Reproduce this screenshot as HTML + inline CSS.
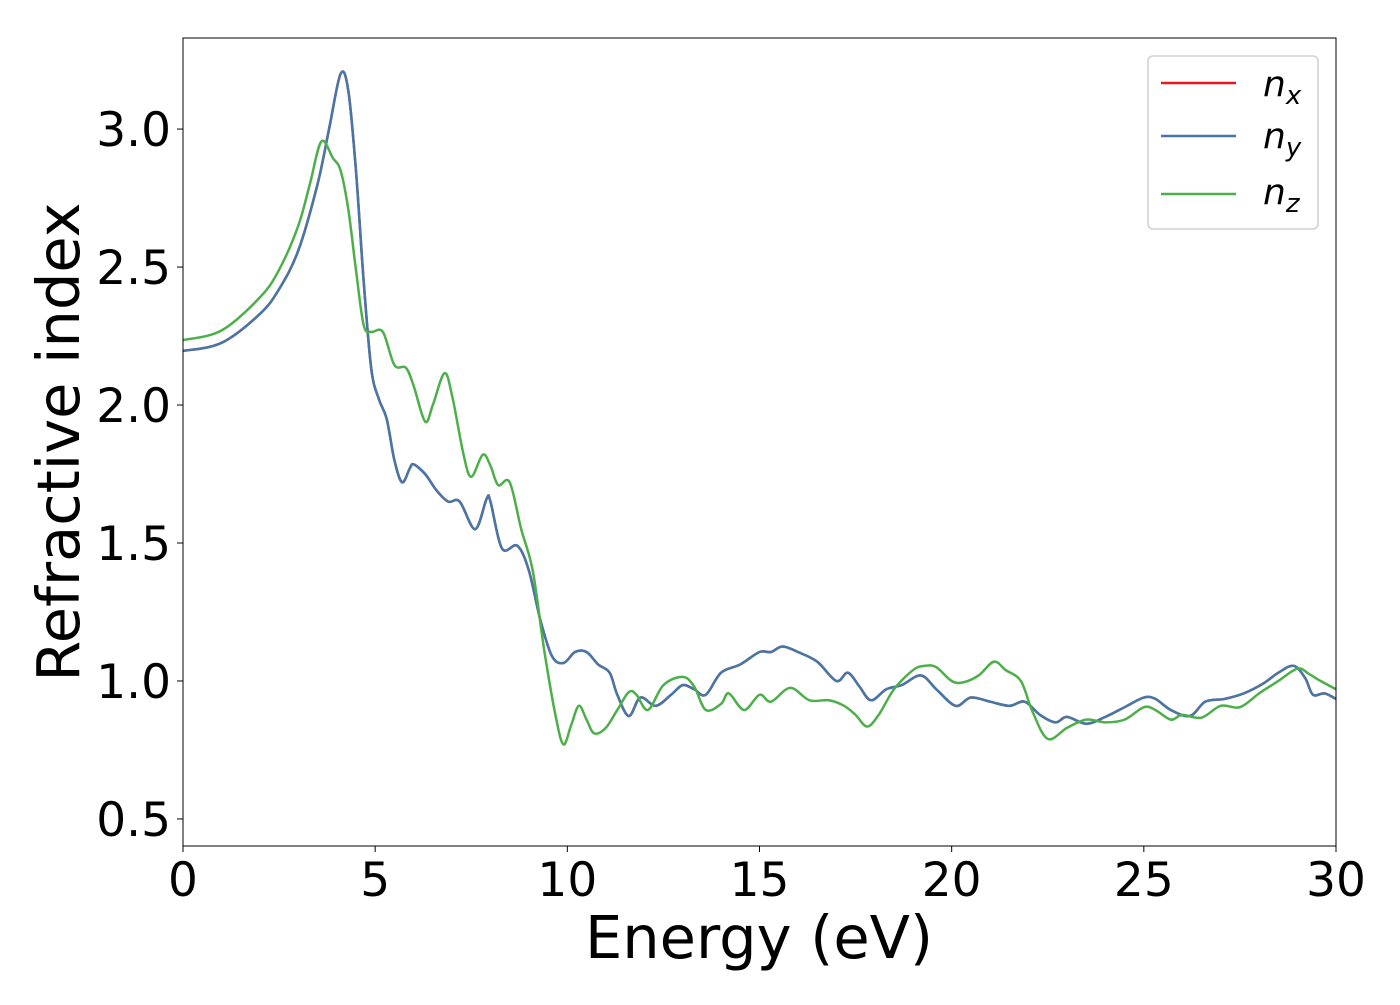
<!DOCTYPE html>
<html><head><meta charset="utf-8"><style>
body{margin:0;background:#fff;}
svg text{font-family:"DejaVu Sans","Liberation Sans",sans-serif;fill:#000;}
</style></head><body>
<svg id="chart" width="1400" height="1000" xmlns="http://www.w3.org/2000/svg">
<g id="plot"></g>
</svg>
<script>
const energyY=[0,1,2,2.5,3,3.5,3.8,4.1,4.3,4.5,4.7,4.9,5.1,5.3,5.5,5.7,5.9,6.0,6.3,6.6,6.9,7.2,7.6,7.9,8.0,8.3,8.7,9.0,9.3,9.6,9.9,10.2,10.5,10.8,11.1,11.3,11.6,11.9,12.3,12.7,13.0,13.3,13.6,14.0,14.5,15.0,15.3,15.6,16.0,16.5,17.0,17.3,17.6,17.9,18.3,18.7,19.2,19.6,20.1,20.5,21.0,21.5,21.9,22.3,22.7,23.0,23.5,24.0,24.5,25.0,25.3,25.7,26.2,26.6,27.1,27.6,28.1,28.5,28.9,29.2,29.4,29.7,30];
const nyValues=[2.196,2.225,2.33,2.42,2.56,2.80,3.0,3.20,3.14,2.85,2.45,2.13,2.02,1.95,1.80,1.72,1.77,1.785,1.75,1.69,1.65,1.65,1.55,1.66,1.65,1.48,1.49,1.40,1.22,1.09,1.065,1.105,1.105,1.06,1.03,0.95,0.873,0.94,0.91,0.95,0.985,0.97,0.95,1.03,1.06,1.105,1.105,1.125,1.105,1.07,1.00,1.03,0.98,0.93,0.97,0.985,1.02,0.97,0.91,0.94,0.925,0.91,0.925,0.877,0.85,0.87,0.845,0.87,0.905,0.94,0.935,0.895,0.873,0.925,0.935,0.955,0.99,1.03,1.055,1.01,0.95,0.955,0.935];
const nxValues=nyValues.slice();
const energyZ=[0,1,2,2.5,3,3.3,3.6,3.9,4.1,4.3,4.5,4.7,4.9,5.2,5.5,5.8,6.0,6.3,6.5,6.8,7.0,7.3,7.5,7.8,8.0,8.2,8.5,8.8,9.1,9.4,9.7,9.9,10.1,10.3,10.5,10.7,11.0,11.3,11.6,11.8,12.1,12.5,13.0,13.3,13.6,14.0,14.2,14.6,15.0,15.3,15.8,16.3,16.8,17.2,17.5,17.8,18.1,18.5,19.0,19.3,19.6,20.0,20.3,20.7,21.1,21.4,21.8,22.1,22.5,23.0,23.5,24.0,24.5,25.0,25.3,25.7,26.0,26.5,27.0,27.5,28.0,28.5,29.0,29.3,29.6,30];
const nzValues=[2.235,2.27,2.39,2.49,2.65,2.80,2.955,2.895,2.85,2.71,2.49,2.29,2.265,2.265,2.145,2.135,2.07,1.94,2.00,2.115,2.035,1.82,1.74,1.82,1.78,1.71,1.72,1.55,1.40,1.11,0.87,0.77,0.84,0.91,0.86,0.81,0.83,0.895,0.96,0.95,0.895,0.985,1.015,0.98,0.895,0.917,0.955,0.895,0.95,0.925,0.975,0.93,0.93,0.91,0.877,0.835,0.877,0.97,1.04,1.055,1.05,1.00,0.995,1.02,1.07,1.04,1.00,0.89,0.79,0.83,0.86,0.85,0.86,0.905,0.895,0.86,0.877,0.867,0.91,0.905,0.955,1.00,1.045,1.025,1.00,0.97];
const xTicks=[0,5,10,15,20,25,30];
const yTicks=[0.5,1.0,1.5,2.0,2.5,3.0];
const yTickLabels=["0.5","1.0","1.5","2.0","2.5","3.0"];

const L=183,R=1336,T=38,B=846;
const xMin=0,xMax=30,yMin=0.402,yMax=3.33;
function sx(v){return L+(v-xMin)/(xMax-xMin)*(R-L);}
function sy(v){return B-(v-yMin)/(yMax-yMin)*(B-T);}
const NS="http://www.w3.org/2000/svg";
const svg=document.getElementById('chart');
const plot=document.getElementById('plot');
function mk(tag,attrs,parent){const e=document.createElementNS(NS,tag);for(const k in attrs)e.setAttribute(k,attrs[k]);(parent||svg).appendChild(e);return e;}
function pathFor(xs,ys){
  const p=xs.map((x,i)=>[sx(x),sy(ys[i])]);
  let d=`M${p[0][0]},${p[0][1]}`;
  for(let i=0;i<p.length-1;i++){
    const p0=p[Math.max(0,i-1)],p1=p[i],p2=p[i+1],p3=p[Math.min(p.length-1,i+2)];
    const c1=[p1[0]+(p2[0]-p0[0])/6,p1[1]+(p2[1]-p0[1])/6];
    const c2=[p2[0]-(p3[0]-p1[0])/6,p2[1]-(p3[1]-p1[1])/6];
    d+=` C${c1[0]},${c1[1]} ${c2[0]},${c2[1]} ${p2[0]},${p2[1]}`;
  }
  return d;
}
const defs=mk('defs',{});
const cp=mk('clipPath',{id:'clip'},defs);
mk('rect',{x:L,y:T,width:R-L,height:B-T},cp);
const series=[[energyY,nxValues,'#e41a1c','series-nx'],[energyY,nyValues,'#4477aa','series-ny'],[energyZ,nzValues,'#4daf4a','series-nz']];
series.forEach(s=>{
  const el=mk('path',{d:pathFor(s[0],s[1]),fill:'none',stroke:s[2],'stroke-width':2.5,'clip-path':'url(#clip)'},plot);
  
  
});
const frame=mk('rect',{x:L,y:T,width:R-L,height:B-T,fill:'none',stroke:'#000','stroke-width':1});


xTicks.forEach(t=>{
  const ln=mk('line',{x1:sx(t),x2:sx(t),y1:B,y2:B+6,stroke:'#000','stroke-width':1});
  
  
  const tx=mk('text',{x:sx(t),y:B+50,'text-anchor':'middle','font-size':47});
  tx.textContent=String(t);
  
  
});
yTicks.forEach((t,i)=>{
  const ln=mk('line',{x1:L-6,x2:L,y1:sy(t),y2:sy(t),stroke:'#000','stroke-width':1});
  
  
  const tx=mk('text',{x:L-12,y:sy(t)+17,'text-anchor':'end','font-size':47});
  tx.textContent=yTickLabels[i];
  
  
});
</script>
<svg style="position:absolute;left:0;top:0" width="1400" height="1000" xmlns="http://www.w3.org/2000/svg">
<text x="759" y="958" text-anchor="middle" font-size="59">Energy (eV)</text>
<text x="0" y="0" transform="translate(79,442) rotate(-90)" text-anchor="middle" font-size="59">Refractive index</text>
<g>
<rect x="1148" y="56" width="170" height="173" rx="5" fill="#fff" stroke="#d0d0d0" stroke-width="1.5"/>
<line x1="1161" x2="1236" y1="83" y2="83" stroke="#e41a1c" stroke-width="2.5"/>
<line x1="1161" x2="1236" y1="136" y2="136" stroke="#4477aa" stroke-width="2.5"/>
<line x1="1161" x2="1236" y1="194" y2="194" stroke="#4daf4a" stroke-width="2.5"/>
<text x="1263" y="96" font-size="36" font-style="italic">n<tspan font-size="26" dy="8">x</tspan></text>
<text x="1263" y="148" font-size="36" font-style="italic">n<tspan font-size="26" dy="8">y</tspan></text>
<text x="1263" y="204" font-size="36" font-style="italic">n<tspan font-size="26" dy="8">z</tspan></text>
</g>
</svg>
</body></html>
